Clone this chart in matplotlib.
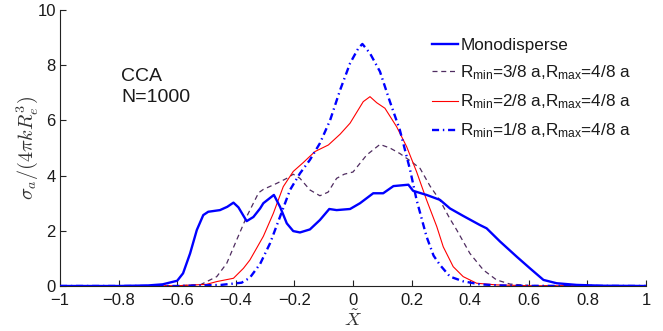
import matplotlib
matplotlib.use("Agg")
import matplotlib.pyplot as plt

plt.rcParams['font.family'] = ['Liberation Sans', 'DejaVu Sans']
plt.rcParams['mathtext.fontset'] = 'custom'
plt.rcParams['mathtext.rm'] = 'Liberation Sans'
plt.rcParams['mathtext.it'] = 'Liberation Sans:italic'

# ---- data ----
x_mono = [-1, -0.8, -0.7, -0.65, -0.60, -0.58, -0.556, -0.533, -0.511, -0.494, -0.454,
          -0.429, -0.408, -0.391, -0.363, -0.34, -0.317, -0.306, -0.27, -0.249, -0.226,
          -0.204, -0.181, -0.147, -0.113, -0.081, -0.056, -0.01, 0.024, 0.069, 0.103,
          0.138, 0.189, 0.205, 0.223, 0.251, 0.297, 0.331, 0.376, 0.433, 0.456, 0.502,
          0.559, 0.604, 0.650, 0.695, 0.763, 0.85, 1]
y_mono = [0, 0, 0.02, 0.06, 0.19, 0.46, 1.18, 2.03, 2.57, 2.69, 2.75,
          2.87, 3.02, 2.85, 2.35, 2.5, 2.81, 3.0, 3.30, 2.87, 2.27,
          1.99, 1.94, 2.05, 2.39, 2.79, 2.75, 2.79, 3.0, 3.36, 3.36,
          3.62, 3.67, 3.45, 3.39, 3.3, 3.12, 2.81, 2.54, 2.21, 2.09, 1.61,
          1.06, 0.64, 0.22, 0.10, 0.04, 0.01, 0]

x_r38 = [-1, -0.6, -0.52, -0.465, -0.431, -0.397, -0.363, -0.34, -0.322, -0.306, -0.26,
         -0.226, -0.204, -0.181, -0.147, -0.113, -0.085, -0.056, -0.03, 0.0, 0.047,
         0.092, 0.126, 0.16, 0.2, 0.229, 0.263, 0.297, 0.33, 0.354, 0.399, 0.445,
         0.49, 0.536, 0.6, 0.7, 1]
y_r38 = [0, 0.01, 0.05, 0.34, 0.82, 1.67, 2.51, 3.0, 3.38, 3.5, 3.72,
         3.9, 4.05, 3.9, 3.48, 3.27, 3.4, 3.9, 4.05, 4.13, 4.75,
         5.13, 5.0, 4.8, 4.5, 4.26, 3.62, 3.1, 2.45, 2.03, 1.18, 0.58,
         0.22, 0.07, 0.02, 0.005, 0]

x_r28 = [-1, -0.6, -0.5, -0.465, -0.408, -0.374, -0.352, -0.33, -0.306, -0.272, -0.238,
         -0.204, -0.17, -0.13, -0.084, -0.044, -0.01, 0.035, 0.058, 0.081, 0.109,
         0.149, 0.183, 0.217, 0.251, 0.286, 0.308, 0.342, 0.376, 0.422, 0.49, 0.6, 1]
y_r28 = [0, 0.01, 0.06, 0.16, 0.28, 0.64, 0.94, 1.35, 1.8, 2.63, 3.6,
         4.15, 4.47, 4.87, 5.11, 5.5, 5.9, 6.68, 6.86, 6.64, 6.44,
         5.77, 5.05, 4.14, 3.12, 2.15, 1.42, 0.70, 0.34, 0.1, 0.04, 0.01, 0]

x_r18 = [-1, -0.6, -0.45, -0.38, -0.352, -0.317, -0.283, -0.249, -0.215, -0.181, -0.147,
         -0.113, -0.078, -0.044, -0.01, 0.018, 0.032, 0.058, 0.092, 0.126, 0.16,
         0.195, 0.217, 0.251, 0.275, 0.297, 0.331, 0.376, 0.433, 0.5, 0.6, 1]
y_r18 = [0, 0.0, 0.04, 0.12, 0.3, 0.8, 1.55, 2.51, 3.48, 4.08, 4.57,
         5.17, 6.01, 7.1, 8.07, 8.61, 8.77, 8.43, 7.77, 6.68, 5.65,
         4.2, 3.12, 1.79, 1.1, 0.76, 0.34, 0.17, 0.06, 0.02, 0.005, 0]

labels = ['Monodisperse',
          r'R$_{\mathrm{min}}$=3/8 a,R$_{\mathrm{max}}$=4/8 a',
          r'R$_{\mathrm{min}}$=2/8 a,R$_{\mathrm{max}}$=4/8 a',
          r'R$_{\mathrm{min}}$=1/8 a,R$_{\mathrm{max}}$=4/8 a']
x_ticks = [-1, -0.8, -0.6, -0.4, -0.2, 0, 0.2, 0.4, 0.6, 0.8, 1]
x_ticklabels = ['\u22121', '\u22120.8', '\u22120.6', '\u22120.4', '\u22120.2', '0',
                '0.2', '0.4', '0.6', '0.8', '1']
y_ticks = [0, 2, 4, 6, 8, 10]

# ---- figure ----
fig = plt.figure(figsize=(6.63, 3.31), dpi=100)
ax = fig.add_axes([60/663, 45/331, 586/663, 276/331])

ax.plot(x_mono, y_mono, color='#0000ff', lw=1.7, label=labels[0], zorder=3)
ax.plot(x_r38, y_r38, color='#4f2c60', lw=0.9, dashes=[4, 3], label=labels[1], zorder=2)
ax.plot(x_r28, y_r28, color='#ff0000', lw=0.8, label=labels[2], zorder=2)
ax.plot(x_r18, y_r18, color='#0000ff', lw=1.7, dashes=[3, 1.6, 0.6, 1.6], label=labels[3], zorder=2)

ax.set_xlim(-1, 1)
ax.set_ylim(0, 10)
ax.set_xticks(x_ticks)
ax.set_xticklabels(x_ticklabels)
ax.set_yticks(y_ticks)
for s in ['top', 'right']:
    ax.spines[s].set_visible(False)
for s in ['left', 'bottom']:
    ax.spines[s].set_color('#222222')
    ax.spines[s].set_linewidth(0.8)
ax.tick_params(direction='in', length=4, width=0.8, colors='#222222',
               labelsize=12, labelcolor='#1a1a1a')
ax.tick_params(axis='x', pad=5)
ax.tick_params(axis='y', pad=3)

ax.set_ylabel(r'$\sigma_a/(4\pi k R_e^3)$', fontsize=14.5, math_fontfamily='cm', color='#333333')
ax.yaxis.set_label_coords(-0.034, 0.5)
ax.set_xlabel(r'$\tilde{X}$', fontsize=13.5, math_fontfamily='cm', color='#333333', va='center')
ax.xaxis.set_label_coords(0.5, -0.122)

ax.text(0.104, 0.743, 'CCA', transform=ax.transAxes, fontsize=14, va='baseline', color='#1a1a1a')
ax.text(0.104, 0.667, 'N=1000', transform=ax.transAxes, fontsize=14, va='baseline', color='#1a1a1a')

leg = ax.legend(loc='upper left', bbox_to_anchor=(0.635, 0.90), frameon=False,
                fontsize=12.3, handlelength=1.5, handletextpad=0.15, borderaxespad=0,
                borderpad=0, labelspacing=0.62)
for t in leg.get_texts():
    t.set_color('#1a1a1a')

fig.savefig('out.png', dpi=100)
